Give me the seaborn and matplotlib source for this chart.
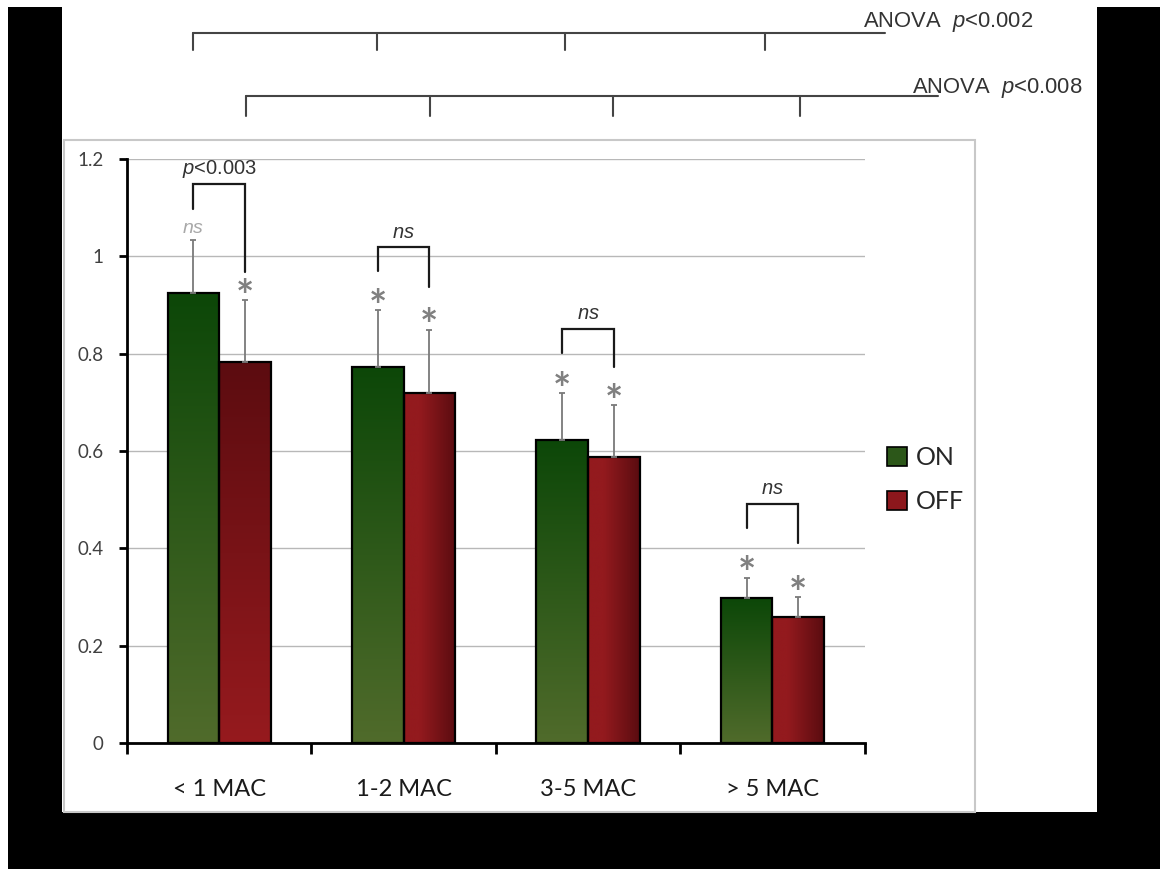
import numpy as np
import pandas as pd
import matplotlib
matplotlib.use("Agg")
import matplotlib.pyplot as plt
import seaborn as sns
from matplotlib.patches import Rectangle, Patch
from matplotlib.colors import to_rgb

# ---- data -------------------------------------------------------------
categories = ["< 1 MAC", "1-2 MAC", "3-5 MAC", "> 5 MAC"]
conditions = ["ON", "OFF"]
on_values = [0.924, 0.773, 0.623, 0.297]
off_values = [0.782, 0.720, 0.588, 0.259]
on_errors = [0.109, 0.116, 0.096, 0.043]
off_errors = [0.128, 0.129, 0.106, 0.040]
on_marks = ["$ns$", "*", "*", "*"]
off_marks = ["*", "*", "*", "*"]
pair_labels = ["$p$<0.003", "$ns$", "$ns$", "$ns$"]
y_ticks = [0, 0.2, 0.4, 0.6, 0.8, 1.0, 1.2]
y_tick_labels = ["0", "0.2", "0.4", "0.6", "0.8", "1", "1.2"]

# pairwise brackets: top, left foot, right foot
bracket_tops = [1.148, 1.019, 0.851, 0.491]
bracket_left_feet = [1.097, 0.969, 0.802, 0.441]
bracket_right_feet = [0.967, 0.9375, 0.772, 0.410]

# ANOVA brackets spanning all groups
anova_labels = ["ANOVA  $p$<0.002", "ANOVA  $p$<0.008"]
anova_tick_x = [[-0.144, 0.855, 1.876, 2.961], [0.144, 1.142, 2.135, 3.150]]
anova_end_x = [3.61, 3.90]
anova_line_y = [1.458, 1.3285]
anova_tick_bottom = [1.423, 1.2875]
anova_text_x = [3.493, 3.758]
anova_text_y = [1.481, 1.345]

# ---- style ------------------------------------------------------------
sns.set_style("white")
plt.rcParams["font.family"] = ["Lato", "DejaVu Sans"]
plt.rcParams["mathtext.fontset"] = "custom"
plt.rcParams["mathtext.it"] = "Liberation Sans:italic"
plt.rcParams["mathtext.rm"] = "Liberation Sans"
ARIAL = ["Liberation Sans", "DejaVu Sans"]

W, H = 1160, 869
fig = plt.figure(figsize=(W / 100, H / 100), dpi=100)
fig.patch.set_facecolor("white")

# dark surround on three sides
for (x0, y0, x1, y1) in [(8, 7, 62, 869), (1097, 7, 1160, 869), (8, 812, 1160, 869)]:
    fig.add_artist(Rectangle((x0 / W, 1 - y1 / H), (x1 - x0) / W, (y1 - y0) / H,
                             transform=fig.transFigure, facecolor="black",
                             edgecolor="none", zorder=0))
# light chart-area frame
fig.add_artist(Rectangle((64 / W, 1 - 812 / H), (975 - 64) / W, (812 - 140) / H,
                         transform=fig.transFigure, facecolor="white",
                         edgecolor="#c8c8c8", lw=1.5, zorder=0.5))

ax = fig.add_axes([127 / W, 1 - 743 / H, (864.5 - 127) / W, (743 - 159) / H])
ax.set_zorder(1)
ax.set_facecolor("none")

df = pd.DataFrame({
    "group": categories * 2,
    "condition": ["ON"] * len(categories) + ["OFF"] * len(categories),
    "value": on_values + off_values,
})
sns.barplot(data=df, x="group", y="value", hue="condition", order=categories,
            hue_order=conditions, palette={"ON": "#2c5719", "OFF": "#8c171c"},
            width=0.56, errorbar=None, edgecolor="black", linewidth=1.6,
            legend=False, ax=ax, zorder=2)

bars = sorted([p for p in ax.patches if isinstance(p, Rectangle)], key=lambda p: p.get_x())
on_bars = bars[0::2]
off_bars = bars[1::2]


def vgrad(top, bottom):
    t, b = np.array(to_rgb(top)), np.array(to_rgb(bottom))
    s = np.linspace(0, 1, 256)[:, None]
    return (b + (t - b) * s)[:, None, :]


def hgrad(left, right):
    l, r = np.array(to_rgb(left)), np.array(to_rgb(right))
    s = np.clip((np.linspace(0, 1, 256) - 0.3) / 0.7, 0, 1)[:, None]
    return (l + (r - l) * s)[None, :, :]


def fill_gradient(patch, arr):
    x0, w, h = patch.get_x(), patch.get_width(), patch.get_height()
    im = ax.imshow(arr, extent=[x0, x0 + w, 0, h], origin="lower", aspect="auto",
                   interpolation="bilinear", zorder=1.9)
    im.set_clip_path(patch)
    patch.set_facecolor("none")


for i, p in enumerate(on_bars):
    fill_gradient(p, vgrad("#0c4708", "#506b2b"))
for i, p in enumerate(off_bars):
    if i == 0:
        fill_gradient(p, vgrad("#5c0c10", "#961a1e"))
    else:
        fill_gradient(p, hgrad("#931a1e", "#5a0c10"))

# upper error bars and significance marks
for bar_set, vals, errs, marks in [(on_bars, on_values, on_errors, on_marks),
                                   (off_bars, off_values, off_errors, off_marks)]:
    for p, v, e, m in zip(bar_set, vals, errs, marks):
        cx = p.get_x() + p.get_width() / 2
        ax.errorbar([cx], [v], yerr=[[0], [e]], fmt="none", ecolor="#7a7a7a",
                    elinewidth=1.3, capsize=2.5, capthick=1.3, zorder=3)
        if m == "*":
            ax.text(cx, v + e + 0.027 - 0.022, m, ha="center", va="center",
                    fontsize=31, fontweight="bold", color="#808080", family=["Lato"],
                    clip_on=False, zorder=4)
        else:
            ax.text(cx, v + e + 0.025, m, ha="center", va="center", fontsize=14,
                    color="#a8a8a8", family=ARIAL, clip_on=False, zorder=4)

# pairwise ON/OFF brackets
for i in range(len(categories)):
    cl = on_bars[i].get_x() + on_bars[i].get_width() / 2
    cr = off_bars[i].get_x() + off_bars[i].get_width() / 2
    top = bracket_tops[i]
    ax.plot([cl, cl, cr, cr], [bracket_left_feet[i], top, top, bracket_right_feet[i]],
            color="#1a1a1a", lw=1.6, clip_on=False, zorder=4, solid_joinstyle="miter")
    ax.text((cl + cr) / 2, top + 0.031, pair_labels[i], ha="center", va="center",
            fontsize=14.5, color="#333333", family=ARIAL, clip_on=False, zorder=4)

# ANOVA brackets above the plot
for k in range(2):
    xs = anova_tick_x[k]
    ax.plot([xs[0], anova_end_x[k]], [anova_line_y[k]] * 2, color="#444444",
            lw=1.5, clip_on=False)
    for x in xs:
        ax.plot([x, x], [anova_line_y[k], anova_tick_bottom[k]], color="#444444",
                lw=1.5, clip_on=False)
    ax.text(anova_text_x[k], anova_text_y[k], anova_labels[k], ha="left", va="center",
            fontsize=15.8, color="#333333", family=ARIAL, clip_on=False)

# axes
ax.set_xlim(-0.5, 3.5)
ax.set_ylim(0, 1.2)
ax.set_xlabel("")
ax.set_ylabel("")
for s in ["top", "right"]:
    ax.spines[s].set_visible(False)
for s in ["left", "bottom"]:
    ax.spines[s].set_color("black")
    ax.spines[s].set_linewidth(2)
ax.set_yticks(y_ticks)
ax.set_yticklabels(y_tick_labels)
ax.yaxis.grid(True, color="#b8b8b8", lw=1)
ax.set_axisbelow(True)
ax.tick_params(axis="y", length=6, width=2, color="black", direction="out", pad=11,
               labelsize=13.5, labelcolor="#404040", left=True)
ax.set_xticks(range(len(categories)))
ax.set_xticklabels(categories)
ax.set_xticks(np.arange(-0.5, len(categories), 1), minor=True)
ax.tick_params(axis="x", which="major", length=0, pad=26, labelsize=17,
               labelcolor="#1a1a1a")
ax.tick_params(axis="x", which="minor", length=8, width=2, direction="out",
               color="black", bottom=True)

handles = [Patch(facecolor="#2c5719", edgecolor="black", lw=1.2, label="ON"),
           Patch(facecolor="#8c171c", edgecolor="black", lw=1.2, label="OFF")]
fig.legend(handles=handles, loc="upper left", bbox_to_anchor=(887 / W, 1 - 446 / H),
           frameon=False, fontsize=18, handlelength=0.8, handleheight=0.8,
           handletextpad=0.35, labelspacing=0.85, borderpad=0, borderaxespad=0)

fig.savefig("out.png", dpi=100)
